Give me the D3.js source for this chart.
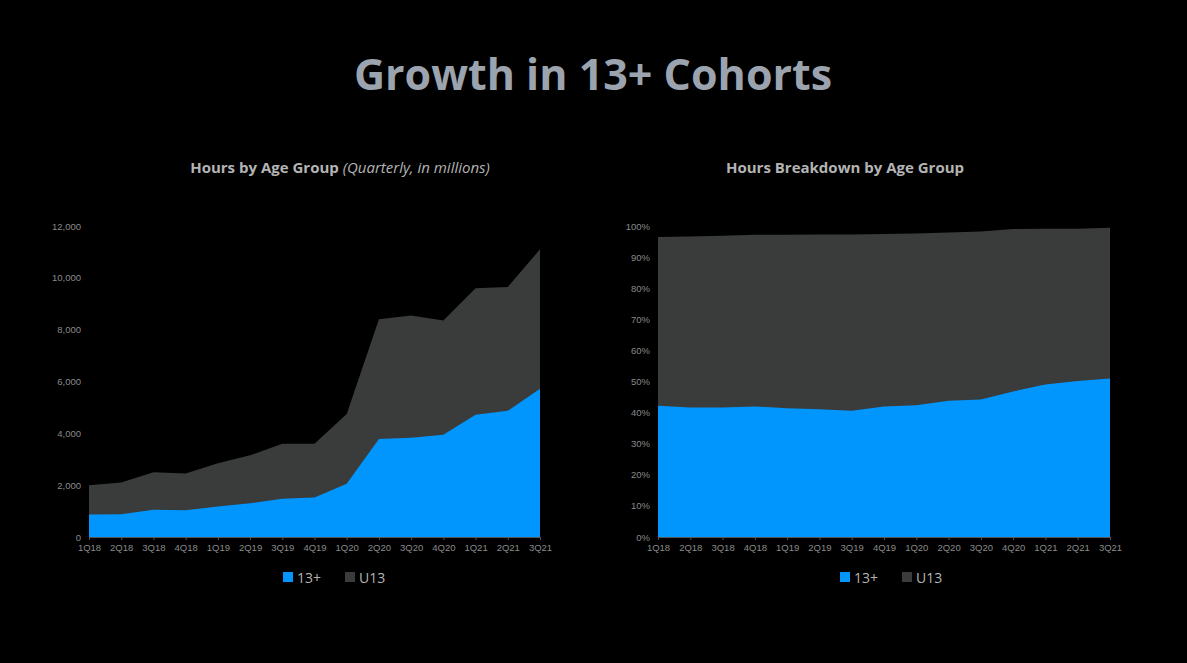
<!DOCTYPE html>
<html><head><meta charset="utf-8">
<script src="https://cdn.jsdelivr.net/npm/d3@7"></script>
<style>
body{margin:0;background:#000;}
svg{display:block;font-family:"Open Sans",sans-serif;}
</style></head><body>
<svg id="c" width="1187" height="663"></svg>
<script>
// quarters and series
var quarters = ["1Q18","2Q18","3Q18","4Q18","1Q19","2Q19","3Q19","4Q19","1Q20","2Q20","3Q20","4Q20","1Q21","2Q21","3Q21"];
var hoursTeen = [870,880,1050,1030,1180,1300,1480,1520,2050,3780,3830,3950,4720,4870,5720];
var hoursTotal = [2000,2100,2500,2450,2850,3150,3600,3600,4750,8400,8550,8350,9600,9650,11100];
var shareTeen = [42.2,41.6,41.6,42.0,41.4,41.1,40.6,42.0,42.4,43.8,44.2,46.8,49.0,50.2,51.0];
var shareTotal = [96.5,96.6,96.9,97.2,97.2,97.3,97.3,97.4,97.6,97.9,98.2,99.0,99.1,99.1,99.4];
var leftTicks = [0,2000,4000,6000,8000,10000,12000];
var rightTicks = [0,10,20,30,40,50,60,70,80,90,100];

var BLUE = "#0096fe", GREY = "#3a3c3b";
var svg = d3.select("#c");

svg.append("text").attr("x", 593).attr("y", 90).attr("text-anchor", "middle")
  .attr("fill", "#9ba4ae").attr("font-size", 43).attr("font-weight", 700)
  .attr("font-family", "'Open Sans', sans-serif").text("Growth in 13+ Cohorts");

function panel(cfg) {
  var x = d3.scalePoint().domain(quarters).range([cfg.x0, cfg.x1]);
  var y = d3.scaleLinear().domain([0, cfg.max]).range([537, 226]);
  var g = svg.append("g");

  var area = function(top) {
    return d3.area().x(function(d, i){ return x(quarters[i]); })
      .y0(y(0)).y1(function(d){ return y(d); })(top);
  };
  g.append("path").attr("d", area(cfg.total)).attr("fill", GREY);
  g.append("path").attr("d", area(cfg.teen)).attr("fill", BLUE);

  var ya = d3.axisLeft(y).tickValues(cfg.ticks).tickSize(0).tickPadding(8).tickFormat(cfg.fmt);
  var yg = g.append("g").attr("transform", "translate(" + cfg.x0 + ",0)").call(ya);
  yg.select(".domain").remove();
  yg.selectAll("text").attr("fill", "#8a8a8a").attr("font-size", 9.5);

  var xa = d3.axisBottom(x).tickSize(3).tickPadding(4);
  var xg = g.append("g").attr("transform", "translate(0," + y(0) + ")").call(xa);
  xg.selectAll("line,.domain").attr("stroke", "#555");
  xg.selectAll("text").attr("fill", "#8a8a8a").attr("font-size", 9.5);

  var t = svg.append("text").attr("x", cfg.tx).attr("y", 173).attr("text-anchor", "middle")
    .attr("fill", "#b4b4b4").attr("font-size", 15).attr("font-weight", 700);
  t.append("tspan").text(cfg.title);
  if (cfg.sub) t.append("tspan").attr("font-weight", 400).attr("font-style", "italic").text(cfg.sub);

  var lg = svg.append("g").attr("transform", "translate(" + cfg.lx + ",578)");
  [["13+", BLUE], ["U13", GREY]].forEach(function(s, i) {
    var o = i * 62;
    lg.append("rect").attr("x", o).attr("y", -6).attr("width", 10).attr("height", 10).attr("fill", s[1]);
    lg.append("text").attr("x", o + 14).attr("y", 4.5).attr("fill", "#b4b4b4").attr("font-size", 14).text(s[0]);
  });
}

panel({x0: 89, x1: 540, max: 12000, total: hoursTotal, teen: hoursTeen, ticks: leftTicks,
  fmt: d3.format(","), title: "Hours by Age Group ", sub: "(Quarterly, in millions)", tx: 340, lx: 283});
panel({x0: 658, x1: 1110, max: 100, total: shareTotal, teen: shareTeen, ticks: rightTicks,
  fmt: function(d){ return d + "%"; }, title: "Hours Breakdown by Age Group", tx: 845, lx: 840});
</script>
</body></html>
